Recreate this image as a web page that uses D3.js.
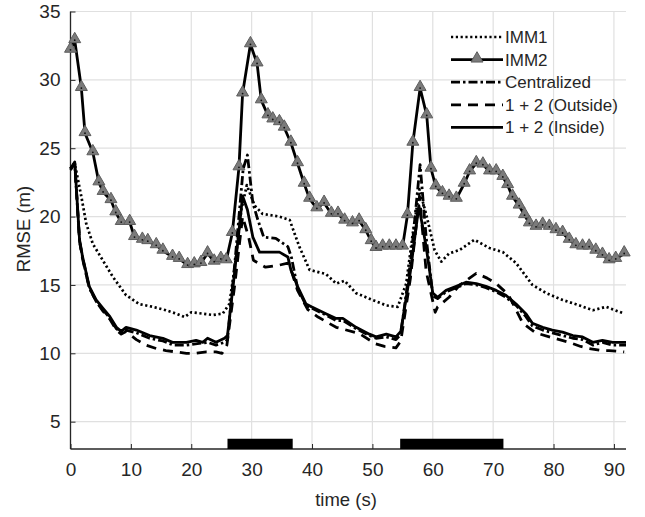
<!DOCTYPE html>
<html><head><meta charset="utf-8">
<script src="https://cdn.jsdelivr.net/npm/d3@7"></script>
<style>body{margin:0;background:#fff}svg{display:block}text{font-family:"Liberation Sans",Arial,sans-serif;fill:#262626}</style>
</head><body><svg id="c" width="645" height="517"></svg>
<script>
// ---- data ----
const xTicks = [0,10,20,30,40,50,60,70,80,90];
const yTicks = [5,10,15,20,25,30,35];
const seriesNames = ["IMM1","IMM2","Centralized","1 + 2 (Outside)","1 + 2 (Inside)"];

const imm1T = [0,0.7,1.8,2.6,3.7,5.35,7,9.2,11.4,13.6,15.8,17.5,18.9,20,21.9,23.6,25.2,26.3,27.2,28.3,29.2,30.5,31.8,34.6,36.3,37.9,39.6,42.3,44,45.4,47.3,50,52.3,54.2,55.6,56.7,57.8,59,60.3,61.4,62.7,64.4,66.9,69.4,71.6,73.8,76.5,78.8,81.5,84.3,86.5,88.7,91.7];
const imm1V = [23.5,23.9,21.45,19.5,18.0,16.8,15.6,14.25,13.6,13.4,13.15,12.9,12.65,13.0,12.9,12.8,12.9,13.6,16.3,20.5,22.3,20.8,20.2,20.0,19.75,17.8,16.1,15.8,15.1,15.3,14.4,13.9,13.5,13.4,15.1,18.8,22.0,20.0,17.55,16.7,17.3,17.55,18.3,17.7,17.4,16.6,15.0,14.4,13.9,13.5,13.15,13.4,12.9];

const imm2T = [0,0.7,1.8,2.4,3.7,4.7,5.4,6.7,7.5,8.4,9.8,10.6,11.9,12.8,14.2,15.3,16.9,18,19.4,20.5,21.6,22.7,23.8,24.9,25.8,26.8,27.9,28.5,29.8,30.9,31.6,32.7,33.5,34.6,35.4,36.5,37.6,38.7,39.6,40.8,42,43.2,44.3,45.4,46.7,47.8,48.9,49.8,50.6,51.7,52.8,53.9,55,55.8,56.7,57.9,59,59.7,60.5,61.6,62.7,63.9,65.2,66.1,67.2,68.3,69.4,70.5,71.6,72.4,73.2,74.3,75.2,76,77.1,78.2,79.3,80.4,81.5,82.6,83.7,84.8,85.9,87,88.1,89.2,90.3,91.7];
const imm2V = [32.2,32.9,29.4,26.1,24.7,22.5,21.8,21.2,20.3,19.6,19.6,18.5,18.3,18.2,17.9,17.5,17.05,16.9,16.45,16.5,16.6,17.3,16.7,16.9,16.8,18.8,23.6,29.0,32.6,31.2,28.5,27.4,27.1,26.9,26.5,25.4,23.9,22.4,21.3,20.6,21.0,20.2,20.2,19.7,19.5,19.7,19.0,18.2,17.7,17.8,17.8,17.8,17.8,20.1,25.4,29.4,27.4,23.5,22.2,21.7,21.45,21.3,22.4,23.3,23.9,23.8,23.3,23.3,22.9,22.3,21.45,20.8,20.1,19.5,19.25,19.4,19.25,19.0,18.8,18.3,17.9,17.8,17.8,17.5,17.2,16.8,16.9,17.3];

const centT = [0,0.7,1.5,2,3.1,4.25,5.35,6.5,7.6,8.4,9.2,10.9,13.1,15.3,17,19.2,21,22.7,24.1,25.5,26,27.3,28.6,29.3,30.2,31,32,34,36,36.6,37.6,39,40,42.3,44,45.1,47.3,49.5,50.6,52.3,53.9,54.7,56.4,57.9,58.9,60,60.8,62.2,63.9,65.5,67.2,68.8,70.5,72.1,73.8,75.4,76.5,78.2,79.8,81.5,83.2,84.8,86.5,88.1,89.8,92];
const centV = [23.5,23.9,18.2,17.0,14.8,13.8,13.2,12.6,11.8,11.5,11.7,11.5,11.1,10.9,10.6,10.6,10.7,10.8,10.6,10.8,11.0,17.0,23.5,24.5,21.0,19.8,18.5,18.4,17.8,17.0,14.8,13.5,13.3,12.8,12.4,12.4,11.8,11.3,11.1,11.2,11.0,11.4,17.0,23.8,18.5,14.2,14.0,14.5,14.8,15.1,15.0,14.8,14.5,14.1,13.5,12.7,12.0,11.7,11.5,11.3,11.1,11.0,10.6,10.8,10.6,10.6];

const outT = [0,0.7,1.5,2,3.1,4.25,5.35,6.5,7.6,8.4,9.2,10.9,12.5,14.2,15.8,17.5,19.2,20.8,22.5,24.1,25.1,25.9,27.2,28.5,29.5,30.3,32.3,34.6,36,36.6,37.6,39.3,41,44,47.8,50.5,52,53.9,54.7,56.3,57.8,58.9,60.4,60.8,62.7,64.5,67.2,69,70.5,72.5,74,74.9,77,79.3,82.6,84.5,85.9,88,89.2,91.7];
const outV = [23.4,23.9,18.2,16.9,14.8,13.8,13.1,12.5,11.7,11.4,11.6,11.0,10.6,10.35,10.2,10.1,10.0,10.0,10.1,10.1,10.0,10.6,15.0,20.0,18.5,16.8,16.3,16.45,16.6,16.0,14.6,13.2,12.65,11.9,11.45,10.7,10.5,10.4,10.9,15.5,21.5,16.0,13.0,13.4,14.1,15.0,15.85,15.5,15.1,14.3,13.0,12.2,11.5,11.2,10.8,10.5,10.35,10.2,10.2,10.1];

const inT = [0,0.7,1.5,2,3.1,4.25,5.35,6.5,7.6,8.4,9.2,10.9,13.1,15.3,16.9,19.2,20.8,21.9,22.7,24.1,25.5,26.0,27.2,28.5,29.3,30.2,31.3,33,34.6,36,36.5,37.6,39,39.9,42.3,44,45.1,47.3,49.5,50.6,52.3,53.9,54.7,56.3,57.7,58.9,60,60.8,62.2,63.9,65.5,67.2,68.8,70.5,72.1,73.8,75.4,76.5,78.2,79.8,81.5,83.2,84.8,86.5,88.1,89.8,92];
const inV = [23.5,24.0,18.3,17.05,14.9,13.9,13.3,12.7,11.9,11.6,11.9,11.7,11.3,11.1,10.8,10.8,10.95,10.8,11.1,10.8,11.1,11.3,16.0,21.5,20.5,18.5,17.4,17.4,17.4,17.05,16.1,14.9,13.6,13.4,12.9,12.55,12.55,11.9,11.4,11.2,11.4,11.2,11.6,16.0,20.8,17.8,14.4,14.1,14.6,14.9,15.2,15.1,14.9,14.6,14.25,13.6,12.9,12.2,11.9,11.7,11.55,11.3,11.2,10.8,10.95,10.8,10.8];

const barStart = [26, 54.6];
const barEnd = [36.8, 71.7];

// ---- chart ----
const svg = d3.select("#c");
const L = 70.5, R = 626, T = 11.5, B = 449;
const x = d3.scaleLinear().domain([0, 92]).range([L, R]);
const y = d3.scaleLinear().domain([3, 35]).range([B, T]);

// grid
const g = svg.append("g");
g.selectAll("line.gx").data(xTicks).join("line")
  .attr("x1", d => x(d)).attr("x2", d => x(d)).attr("y1", T).attr("y2", B)
  .attr("stroke", "#e0e0e0").attr("stroke-width", 1.2);
g.selectAll("line.gy").data(yTicks).join("line")
  .attr("x1", L).attr("x2", R).attr("y1", d => y(d)).attr("y2", d => y(d))
  .attr("stroke", "#e0e0e0").attr("stroke-width", 1.2);

// axes
const xAxis = d3.axisBottom(x).tickValues(xTicks).tickSizeInner(-5).tickSizeOuter(0).tickPadding(14);
const yAxis = d3.axisLeft(y).tickValues(yTicks).tickSizeInner(-5).tickSizeOuter(0).tickPadding(10);
const gx = svg.append("g").attr("transform", `translate(0,${B})`).call(xAxis);
const gy = svg.append("g").attr("transform", `translate(${L},0)`).call(yAxis);
[gx, gy].forEach(a => {
  a.select(".domain").attr("stroke", "#262626").attr("stroke-width", 1.3);
  a.selectAll(".tick line").attr("stroke", "#262626").attr("stroke-width", 1);
  a.selectAll(".tick text").style("font-size", "19px").attr("fill", "#2b2b2b");
});
gy.select(".domain").attr("d", `M0,${B}V${T}`);
gx.select(".domain").attr("d", `M${L},0H${R}`);

// labels
svg.append("text").attr("x", 346).attr("y", 506).attr("text-anchor", "middle")
  .style("font-size", "18.5px").attr("fill", "#2b2b2b").text("time (s)");
svg.append("text").attr("transform", "translate(30,229) rotate(-90)").attr("text-anchor", "middle")
  .style("font-size", "18.5px").attr("fill", "#2b2b2b").text("RMSE (m)");

// bars
const bars = barStart.map((s, i) => ({s, e: barEnd[i]}));
svg.selectAll("rect.bar").data(bars).join("rect")
  .attr("x", d => x(d.s)).attr("width", d => x(d.e) - x(d.s))
  .attr("y", y(3.75)).attr("height", y(3) - y(3.75)).attr("fill", "#000");

const line = d3.line().x(d => x(d[0])).y(d => y(d[1]));
const zip = (t, v) => t.map((d, i) => [d, v[i]]);
const styles = [
  {data: zip(imm1T, imm1V), dash: "2.2,2.6", w: 2.7},
  {data: zip(imm2T, imm2V), dash: null, w: 2.8, marker: true},
  {data: zip(centT, centV), dash: "9,3,2.5,3", w: 2.8},
  {data: zip(outT, outV), dash: "10,7", w: 2.8},
  {data: zip(inT, inV), dash: null, w: 2.8}
];
const tri = d3.symbol().type(d3.symbolTriangle).size(62);
styles.forEach(s => {
  svg.append("path").attr("d", line(s.data)).attr("fill", "none")
    .attr("stroke", "#000").attr("stroke-width", s.w)
    .attr("stroke-dasharray", s.dash).attr("stroke-linejoin", "round");
  if (s.marker) {
    svg.selectAll(null).data(s.data).join("path")
      .attr("d", tri).attr("transform", d => `translate(${x(d[0])},${y(d[1]) - 1})`)
      .attr("fill", "#7b7b7b").attr("stroke", "#5e5e5e").attr("stroke-width", 1);
    svg.selectAll(null).data(s.data).join("circle")
      .attr("cx", d => x(d[0])).attr("cy", d => y(d[1])).attr("r", 0.9).attr("fill", "#111");
  }
});

// legend
const lg = svg.append("g");
seriesNames.forEach((n, i) => {
  const yy = 37 + i * 22.6;
  const s = styles[i];
  lg.append("line").attr("x1", 451).attr("x2", 503).attr("y1", yy).attr("y2", yy)
    .attr("stroke", "#000").attr("stroke-width", s.w).attr("stroke-dasharray", s.dash);
  if (s.marker) {
    lg.append("path").attr("d", tri).attr("transform", `translate(477,${yy - 1})`)
      .attr("fill", "#7b7b7b").attr("stroke", "#5e5e5e").attr("stroke-width", 1);
  }
  lg.append("text").attr("x", 505).attr("y", yy + 6).style("font-size", "17px")
    .attr("fill", "#2b2b2b").text(n);
});
</script></body></html>
